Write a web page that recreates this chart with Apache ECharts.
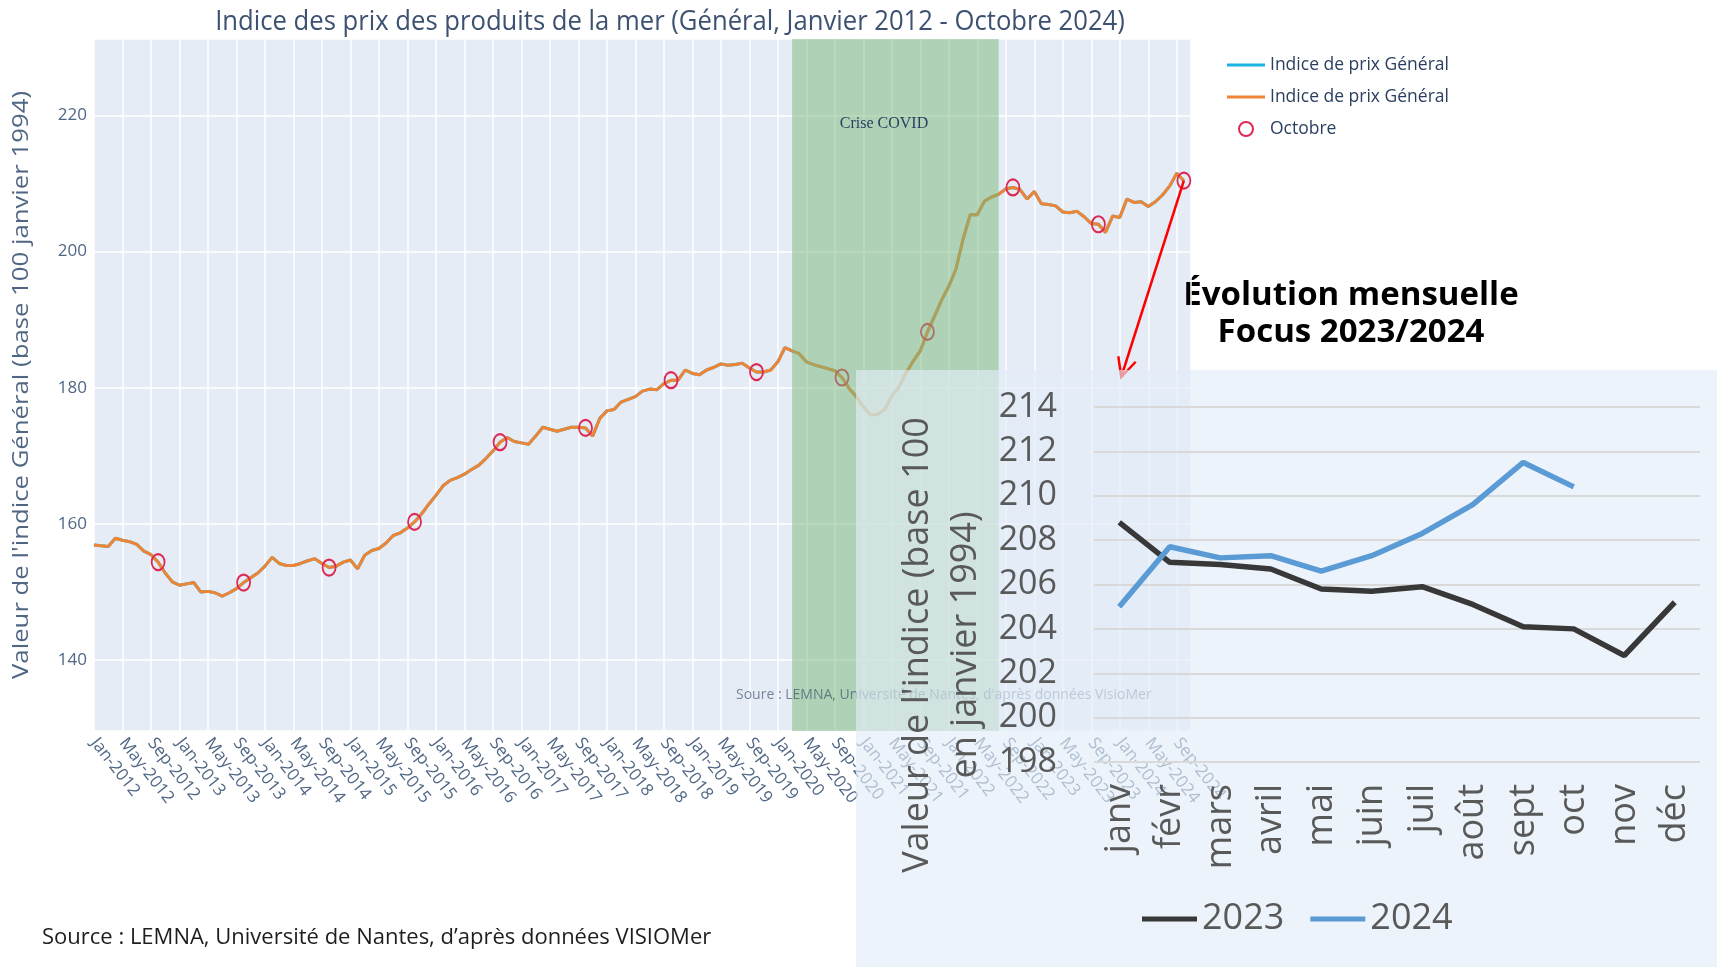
<!DOCTYPE html>
<html lang="fr">
<head>
  <meta charset="UTF-8">
  <title>Indice des prix des produits de la mer</title>
  <script src="https://cdn.jsdelivr.net/npm/echarts@6/dist/echarts.min.js"></script>
  <style>
    html,
    body {
      margin: 0;
      padding: 0;
      background: #fff;
    }

    #chart {
      width: 1717px;
      height: 967px;
    }
  </style>
</head>

<body>
  <div id="chart"></div>
  <script>
    // indice général mensuel, janvier 2012 -> octobre 2024
    const indice = [
      156.9, 156.8, 156.7, 157.9, 157.6, 157.4, 157.0, 156.0, 155.5, 154.4, 152.8, 151.5, // 2012
      151.0, 151.2, 151.4, 150.0, 150.1, 149.9, 149.4, 149.9, 150.5, 151.4, 152.1, 152.8, // 2013
      153.8, 155.1, 154.2, 153.9, 153.9, 154.2, 154.6, 154.9, 154.2, 153.6, 153.8, 154.4, // 2014
      154.7, 153.4, 155.4, 156.1, 156.4, 157.2, 158.3, 158.7, 159.4, 160.3, 161.5, 162.9, // 2015
      164.2, 165.6, 166.4, 166.8, 167.3, 168.0, 168.6, 169.6, 170.7, 172.0, 172.7, 172.1, // 2016
      171.9, 171.7, 172.9, 174.2, 173.9, 173.6, 173.9, 174.2, 174.2, 174.1, 172.9, 175.5, // 2017
      176.6, 176.8, 177.9, 178.3, 178.7, 179.5, 179.8, 179.7, 180.6, 181.1, 181.1, 182.6, // 2018
      182.1, 181.9, 182.6, 183.0, 183.5, 183.3, 183.4, 183.6, 182.9, 182.3, 182.3, 182.6, // 2019
      183.8, 185.9, 185.4, 185.0, 183.8, 183.4, 183.1, 182.8, 182.5, 181.5, 179.9, 178.7, // 2020
      177.2, 176.0, 176.1, 176.8, 178.8, 180.1, 182.2, 183.9, 185.4, 188.2, 190.5, 192.9, // 2021
      194.9, 197.4, 201.8, 205.4, 205.4, 207.4, 208.0, 208.4, 209.2, 209.4, 209.1, 207.7, // 2022
      208.8, 207.0, 206.9, 206.7, 205.8, 205.7, 205.9, 205.1, 204.1, 204.0, 202.8, 205.2, // 2023
      205.0, 207.7, 207.2, 207.3, 206.6, 207.3, 208.3, 209.6, 211.5, 210.4               // 2024
    ]
    const anneeDebut = 2012
    const moisCourts = ['Jan', 'Feb', 'Mar', 'Apr', 'May', 'Jun', 'Jul', 'Aug', 'Sep', 'Oct', 'Nov', 'Dec']
    const periodeCovid = [98, 127] // mars 2020 -> août 2022, en mois depuis janvier 2012

    // zoom 2023/2024
    const moisFocus = ['janv', 'févr', 'mars', 'avril', 'mai', 'juin', 'juil', 'août', 'sept', 'oct', 'nov', 'déc']
    const focus2023 = indice.slice(132, 144)
    const focus2024 = indice.slice(144)

    const serieIndice = indice.map((v, i) => [i, v])
    const octobres = serieIndice.filter(d => d[0] % 12 === 9)

    const police = '"Open Sans", "DejaVu Sans", sans-serif'
    const gris = '#595959'
    const nomSerie = 'Indice de prix Général'

    const chart = echarts.init(document.getElementById('chart'))
    chart.setOption({
      animation: false,
      grid: [
        { left: 94, top: 39, width: 1097, height: 692, show: true, backgroundColor: '#E5ECF6', borderWidth: 0 },
        { left: 1094, top: 407, width: 606, height: 355 }
      ],
      xAxis: [{
        type: 'value',
        gridIndex: 0,
        min: 0,
        max: 154,
        interval: 4,
        axisLine: { show: false },
        axisTick: { show: false },
        splitLine: { lineStyle: { color: '#fff', width: 1.5 } },
        axisLabel: {
          rotate: -52,
          margin: 9,
          fontSize: 17,
          fontFamily: police,
          color: '#506784',
          showMaxLabel: false,
          formatter: v => (v % 4 === 0 && v < indice.length)
            ? moisCourts[v % 12] + '-' + (anneeDebut + Math.floor(v / 12)) : ''
        }
      }, {
        type: 'category',
        gridIndex: 1,
        data: moisFocus,
        z: 60,
        axisLine: { show: false },
        axisTick: { show: false },
        axisLabel: { rotate: 90, margin: 22, fontSize: 36, fontFamily: police, color: gris }
      }],
      yAxis: [{
        type: 'value',
        gridIndex: 0,
        min: 129.6,
        max: 231.2,
        splitNumber: 5,
        axisLine: { show: false },
        axisTick: { show: false },
        splitLine: { lineStyle: { color: '#fff', width: 1.5 } },
        axisLabel: {
          fontSize: 17, fontFamily: police, color: '#506784', margin: 7,
          showMinLabel: false, showMaxLabel: false
        }
      }, {
        type: 'value',
        gridIndex: 1,
        min: 198,
        max: 214,
        interval: 2,
        z: 60,
        axisLine: { show: false },
        axisTick: { show: false },
        splitLine: { lineStyle: { color: '#d9d9d9', width: 2 } },
        axisLabel: { fontSize: 34, fontFamily: police, color: gris, margin: 37 }
      }],
      legend: [{
        orient: 'vertical',
        left: 1222,
        top: 51,
        itemWidth: 38,
        itemHeight: 14,
        itemGap: 14,
        textStyle: { fontSize: 17.5, fontFamily: police, color: '#2a3f5f' },
        data: [
          { name: nomSerie, icon: 'path://M0,0H38V3H0Z' },
          { name: nomSerie + ' ', icon: 'path://M0,0H38V3H0Z' },
          { name: 'Octobre', icon: 'circle', itemStyle: { color: 'rgba(0,0,0,0)', borderColor: '#dc2a55', borderWidth: 2 } }
        ]
      }, {
        left: 1137,
        top: 896,
        z: 60,
        icon: 'rect',
        itemWidth: 55,
        itemHeight: 5,
        itemGap: 26,
        textStyle: { fontSize: 36, fontFamily: police, color: gris },
        data: ['2023', '2024']
      }],
      series: [{
        name: nomSerie,
        type: 'line',
        xAxisIndex: 0,
        yAxisIndex: 0,
        data: serieIndice,
        showSymbol: false,
        z: 2,
        lineStyle: { color: '#19b4e3', width: 3 },
        itemStyle: { color: '#19b4e3' }
      }, {
        name: nomSerie + ' ',
        type: 'line',
        xAxisIndex: 0,
        yAxisIndex: 0,
        data: serieIndice,
        showSymbol: false,
        z: 3,
        lineStyle: { color: '#ef8434', width: 3 },
        itemStyle: { color: '#ef8434' }
      }, {
        name: 'Octobre',
        type: 'scatter',
        xAxisIndex: 0,
        yAxisIndex: 0,
        data: octobres,
        symbolSize: [13, 16],
        z: 4,
        itemStyle: { color: 'rgba(0,0,0,0)', borderColor: '#dc2a55', borderWidth: 2, opacity: 1 }
      }, {
        // bande "Crise COVID", posée par-dessus la courbe
        type: 'line',
        xAxisIndex: 0,
        yAxisIndex: 0,
        data: [],
        markArea: {
          silent: true,
          z: 10,
          itemStyle: { color: 'rgba(121,184,120,0.5)' },
          data: [[{ xAxis: periodeCovid[0] }, { xAxis: periodeCovid[1] }]]
        }
      }, {
        name: '2023',
        type: 'line',
        xAxisIndex: 1,
        yAxisIndex: 1,
        data: focus2023,
        showSymbol: false,
        z: 60,
        lineStyle: { color: '#383838', width: 5.5 },
        itemStyle: { color: '#383838' }
      }, {
        name: '2024',
        type: 'line',
        xAxisIndex: 1,
        yAxisIndex: 1,
        data: focus2024,
        showSymbol: false,
        z: 60,
        lineStyle: { color: '#5b9bd5', width: 5.5 },
        itemStyle: { color: '#5b9bd5' }
      }],
      graphic: [{
        type: 'text',
        x: 670,
        y: 22,
        scaleX: 0.95,
        style: {
          text: 'Indice des prix des produits de la mer (Général, Janvier 2012 - Octobre 2024)',
          fontSize: 27, fontFamily: police, fill: '#3d5170', align: 'center', verticalAlign: 'middle'
        }
      }, {
        // titre de l'axe des ordonnées, étiré dans le sens du texte
        type: 'text',
        x: 22,
        y: 385,
        rotation: Math.PI / 2,
        scaleX: 1.17,
        style: {
          text: "Valeur de l'indice Général (base 100 janvier 1994)",
          fontSize: 22, fontFamily: police, fill: '#506784', align: 'center', verticalAlign: 'middle'
        }
      }, {
        type: 'text',
        x: 884,
        y: 124,
        z: 11,
        style: {
          text: 'Crise COVID',
          fontSize: 16, fontFamily: '"Liberation Serif", "DejaVu Serif", serif', fill: '#2a3f5f',
          align: 'center', verticalAlign: 'middle'
        }
      }, {
        type: 'text',
        x: 736,
        y: 695,
        z: 11,
        style: {
          text: "Soure : LEMNA, Université de Nantes, d'après données VisioMer",
          fontSize: 14, fontFamily: police, fill: 'rgba(42,63,95,0.6)', verticalAlign: 'middle'
        }
      }, {
        type: 'text',
        x: 1351,
        y: 314,
        style: {
          text: 'Évolution mensuelle\nFocus 2023/2024',
          fontSize: 33, fontWeight: 'bold', fontFamily: police, fill: '#000',
          lineHeight: 37, align: 'center', verticalAlign: 'middle'
        }
      }, {
        // panneau du zoom, semi-transparent au-dessus du graphique principal
        type: 'rect',
        z: 50,
        shape: { x: 856, y: 370, width: 861, height: 597 },
        style: { fill: 'rgba(226,236,248,0.65)' }
      }, {
        type: 'text',
        x: 942,
        y: 645,
        z: 60,
        rotation: Math.PI / 2,
        style: {
          text: "Valeur de l'indice (base 100\nen janvier 1994)",
          fontSize: 36, fontFamily: police, fill: gris, lineHeight: 48,
          align: 'center', verticalAlign: 'middle'
        }
      }, {
        type: 'text',
        x: 42,
        y: 938,
        style: {
          text: 'Source : LEMNA, Université de Nantes, d’après données VISIOMer',
          fontSize: 22, fontFamily: police, fill: '#1e1e1e', verticalAlign: 'middle'
        }
      }]
    })

    // flèche rouge du dernier point (octobre 2024) vers le zoom
    const depart = chart.convertToPixel({ gridIndex: 0 }, [indice.length - 1, indice[indice.length - 1]])
    const arrivee = [chart.convertToPixel({ gridIndex: 1 }, [moisFocus[0], 214])[0] + 2, 377]
    const dx = arrivee[0] - depart[0]
    const dy = arrivee[1] - depart[1]
    const lg = Math.sqrt(dx * dx + dy * dy)
    const ux = dx / lg
    const uy = dy / lg
    const aile = (a) => [
      arrivee[0] - 21 * (ux * Math.cos(a) - uy * Math.sin(a)),
      arrivee[1] - 21 * (ux * Math.sin(a) + uy * Math.cos(a))
    ]
    chart.setOption({
      graphic: [{
        id: 'fleche',
        type: 'line',
        z: 40,
        shape: { x1: depart[0], y1: depart[1], x2: arrivee[0], y2: arrivee[1] },
        style: { stroke: '#f00', lineWidth: 2.5 }
      }, {
        id: 'pointe',
        type: 'polyline',
        z: 40,
        shape: { points: [aile(0.45), arrivee, aile(-0.45)] },
        style: { stroke: '#f00', lineWidth: 2.5, fill: null }
      }]
    })
  </script>
</body>

</html>
